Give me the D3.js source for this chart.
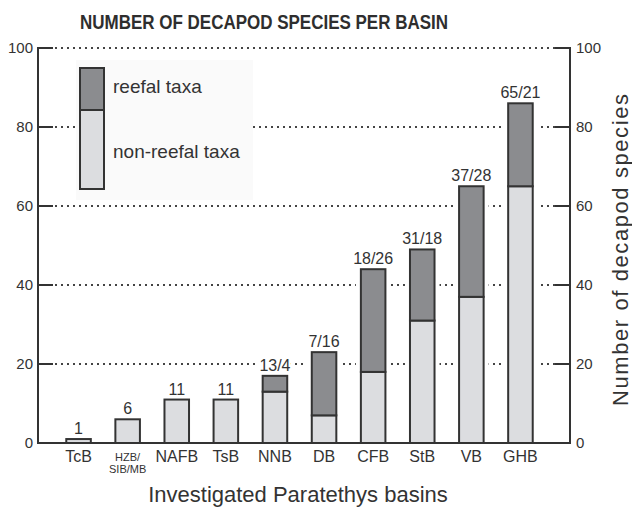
<!DOCTYPE html>
<html>
<head>
<meta charset="utf-8">
<script src="https://cdn.jsdelivr.net/npm/d3@7"></script>
<style>
  html, body { margin: 0; padding: 0; background: #fff; }
  svg { display: block; font-family: "Liberation Sans", Arial, sans-serif; }
</style>
</head>
<body>
<svg id="chart" width="632" height="509"></svg>
<script>
// Basins (short codes) and species counts
const basins = ["TcB", "HZB/SIB/MB", "NAFB", "TsB", "NNB", "DB", "CFB", "StB", "VB", "GHB"];
const nonReefal = [1, 6, 11, 11, 13, 7, 18, 31, 37, 65];
const reefal    = [0, 0, 0, 0, 4, 16, 26, 18, 28, 21];
const valueLabels = ["1", "6", "11", "11", "13/4", "7/16", "18/26", "31/18", "37/28", "65/21"];
const yTicks = [0, 20, 40, 60, 80, 100];

const ink = "#333";
const lightFill = "#dcdde0";
const darkFill = "#8b8c8f";

const svg = d3.select("#chart");
const plotL = 38, plotR = 570, plotT = 48, plotB = 443;

const x = d3.scaleBand().domain(basins).range([54, 545]).paddingInner(0.5).paddingOuter(0.25);
const y = d3.scaleLinear().domain([0, 100]).range([plotB, plotT]);

// Title
svg.append("text")
  .attr("x", 264).attr("y", 29)
  .attr("text-anchor", "middle")
  .attr("font-size", 19.5).attr("font-weight", "bold")
  .attr("fill", "#2e2e2e")
  .attr("textLength", 368).attr("lengthAdjust", "spacingAndGlyphs")
  .text("NUMBER OF DECAPOD SPECIES PER BASIN");

// Dotted gridlines
svg.append("g").selectAll("line")
  .data(yTicks.filter(d => d > 0))
  .join("line")
  .attr("x1", plotL + 17).attr("x2", plotR - 15)
  .attr("y1", d => y(d)).attr("y2", d => y(d))
  .attr("stroke", "#444").attr("stroke-width", 2)
  .attr("stroke-dasharray", "2 4");

// Legend panel (covers the grid behind it)
const legend = svg.append("g");
legend.append("rect").attr("x", 76).attr("y", 60).attr("width", 177).attr("height", 140).attr("fill", "#fafafa");
legend.append("rect").attr("x", 80).attr("y", 110).attr("width", 24).attr("height", 79)
  .attr("fill", lightFill).attr("stroke", ink).attr("stroke-width", 2);
legend.append("rect").attr("x", 80).attr("y", 68).attr("width", 24).attr("height", 42)
  .attr("fill", darkFill).attr("stroke", ink).attr("stroke-width", 2);
legend.append("text").attr("x", 113).attr("y", 93).attr("font-size", 19).attr("fill", ink).text("reefal taxa");
legend.append("text").attr("x", 113).attr("y", 158).attr("font-size", 19).attr("fill", ink).text("non-reefal taxa");

// White halo around each bar so the dotted grid stops short of it
const bw = x.bandwidth();
const rows = basins.map((b, i) => ({ b, nr: nonReefal[i], r: reefal[i], label: valueLabels[i] }));

svg.append("g").selectAll("rect")
  .data(rows).join("rect")
  .attr("x", d => x(d.b) - 5).attr("width", bw + 10)
  .attr("y", d => y(d.nr + d.r) - 3).attr("height", d => plotB - y(d.nr + d.r) + 3)
  .attr("fill", "#fff");

const bars = svg.append("g");
bars.selectAll("rect.nr")
  .data(rows).join("rect").attr("class", "nr")
  .attr("x", d => x(d.b)).attr("width", bw)
  .attr("y", d => y(d.nr)).attr("height", d => plotB - y(d.nr))
  .attr("fill", lightFill).attr("stroke", ink).attr("stroke-width", 2);
bars.selectAll("rect.r")
  .data(rows.filter(d => d.r > 0)).join("rect").attr("class", "r")
  .attr("x", d => x(d.b)).attr("width", bw)
  .attr("y", d => y(d.nr + d.r)).attr("height", d => y(d.nr) - y(d.nr + d.r))
  .attr("fill", darkFill).attr("stroke", ink).attr("stroke-width", 2);

// Value labels above bars
svg.append("g").selectAll("text")
  .data(rows).join("text")
  .attr("x", d => x(d.b) + bw / 2)
  .attr("y", d => y(d.nr + d.r) - 5)
  .attr("text-anchor", "middle")
  .attr("font-size", 16).attr("fill", ink)
  .attr("stroke", "#fff").attr("stroke-width", 5).attr("paint-order", "stroke")
  .text(d => d.label);

// Axes
const axisL = svg.append("g").attr("transform", `translate(${plotL},0)`)
  .call(d3.axisLeft(y).tickValues(yTicks).tickSize(0).tickPadding(5));
const axisR = svg.append("g").attr("transform", `translate(${plotR},0)`)
  .call(d3.axisRight(y).tickValues(yTicks).tickSize(0).tickPadding(6));
[axisL, axisR].forEach(g => {
  g.select(".domain").remove();
  g.selectAll("text").attr("font-size", 15).attr("fill", ink).attr("font-family", "Liberation Sans, Arial, sans-serif");
});

// Inward tick marks
svg.append("g").selectAll("line").data(yTicks.filter(d => d > 0)).join("line")
  .attr("x1", plotL).attr("x2", plotL + 15).attr("y1", d => y(d)).attr("y2", d => y(d))
  .attr("stroke", ink).attr("stroke-width", 2);
svg.append("g").selectAll("line").data(yTicks.filter(d => d > 0)).join("line")
  .attr("x1", plotR - 15).attr("x2", plotR).attr("y1", d => y(d)).attr("y2", d => y(d))
  .attr("stroke", ink).attr("stroke-width", 2);

// Axis frame lines
svg.append("line").attr("x1", plotL).attr("x2", plotL).attr("y1", plotT - 1).attr("y2", plotB + 1)
  .attr("stroke", ink).attr("stroke-width", 2);
svg.append("line").attr("x1", plotR).attr("x2", plotR).attr("y1", plotT - 1).attr("y2", plotB + 1)
  .attr("stroke", ink).attr("stroke-width", 2);
svg.append("line").attr("x1", plotL - 1).attr("x2", plotR + 1).attr("y1", plotB).attr("y2", plotB)
  .attr("stroke", ink).attr("stroke-width", 2);

// Category labels
const xAxis = svg.append("g").attr("transform", `translate(0,${plotB})`)
  .call(d3.axisBottom(x).tickSize(0).tickPadding(0));
xAxis.select(".domain").remove();
xAxis.selectAll("text").remove();
xAxis.selectAll(".tick").each(function(d) {
  const t = d3.select(this).append("text").attr("fill", ink).attr("text-anchor", "middle")
    .attr("font-family", "Liberation Sans, Arial, sans-serif");
  if (d.includes("/")) {
    const parts = d.split("/");
    t.attr("font-size", 11);
    t.append("tspan").attr("x", 0).attr("y", 18).text(parts[0] + "/");
    t.append("tspan").attr("x", 0).attr("y", 30).text(parts.slice(1).join("/"));
  } else {
    t.attr("font-size", 16).attr("y", 19).text(d);
  }
});

// Axis titles
svg.append("text")
  .attr("x", 298).attr("y", 502)
  .attr("text-anchor", "middle")
  .attr("font-size", 22).attr("fill", ink)
  .text("Investigated Paratethys basins");

svg.append("text")
  .attr("transform", "translate(628,250) rotate(-90)")
  .attr("text-anchor", "middle")
  .attr("font-size", 22).attr("fill", ink)
  .attr("textLength", 312).attr("lengthAdjust", "spacing")
  .text("Number of decapod species");
</script>
</body>
</html>
